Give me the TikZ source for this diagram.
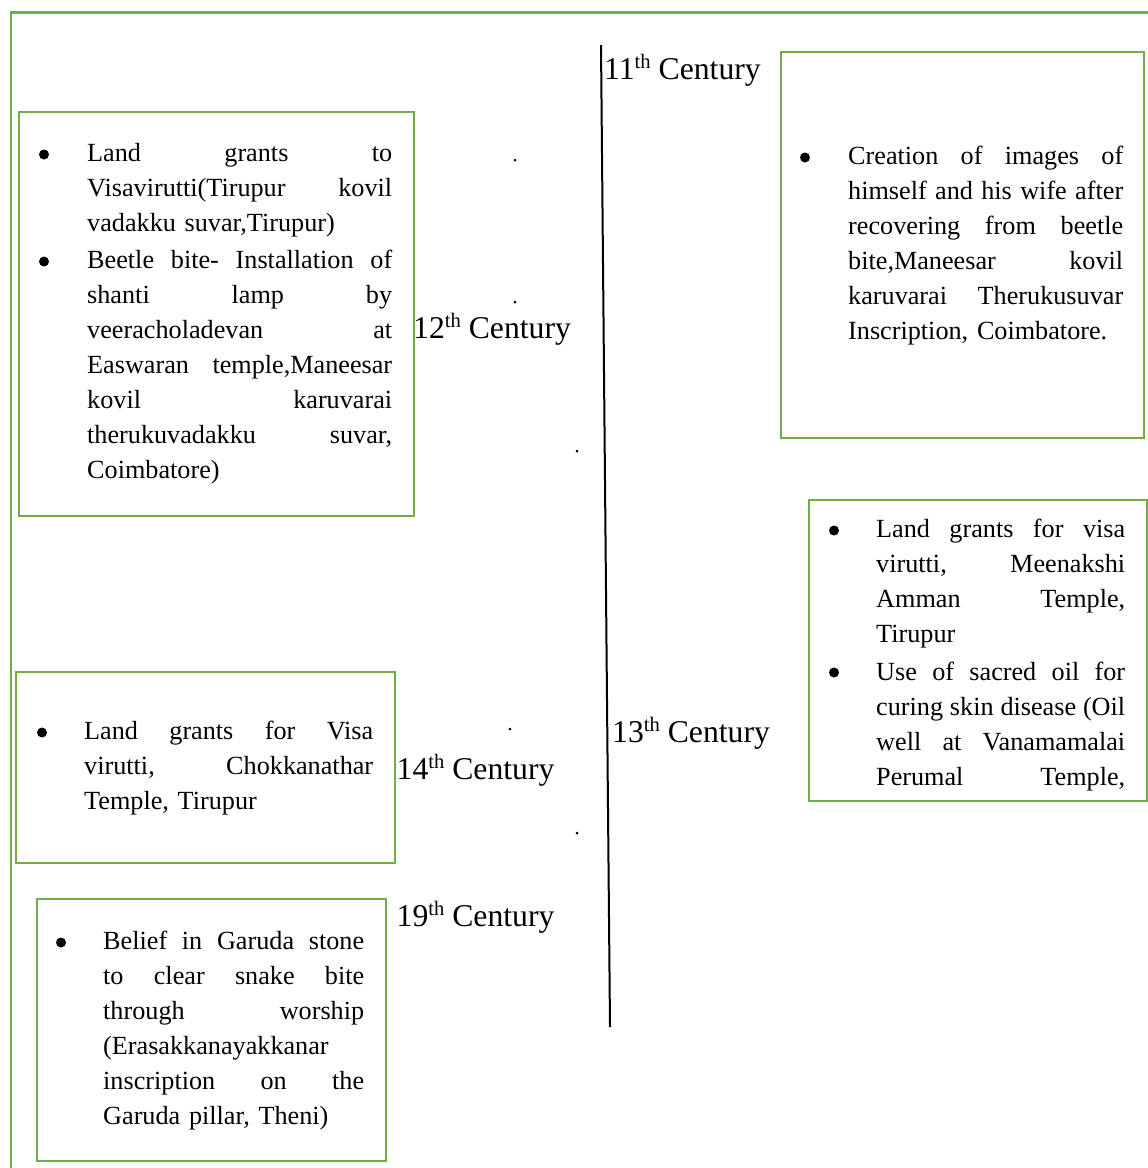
\documentclass[tikz,border=0pt]{standalone}
\usepackage{fontspec}
\setmainfont{Liberation Serif}
\definecolor{boxgreen}{HTML}{70AD47}
\frenchspacing
\newcommand\bodyfont{\fontsize{26.2}{35}\selectfont}
\newcommand\centfont{\fontsize{31.7}{38}\selectfont}
\newcommand\myline[1]{\hbox to\hsize{\vrule height 25pt depth 10pt width 0pt #1}}
\newcommand\cent[1]{#1\raisebox{0.34em}{\fontsize{20.6}{21}\selectfont th} Century}
\tikzset{
  greenbox/.style={draw=boxgreen, line width=2.5pt, anchor=north west, inner sep=0pt},
  txt/.style={anchor=north west, inner sep=0pt, font=\bodyfont},
  centlabel/.style={anchor=base west, inner sep=0pt, font=\centfont},
  bul/.style={circle, fill=black, inner sep=0pt, minimum size=10pt},
  smalldot/.style={circle, fill=black, inner sep=0pt, minimum size=3pt},
  frame/.style={draw=boxgreen, line width=2.4pt},
  timeline/.style={draw=black, line width=2pt}
}
\begin{document}
\begin{tikzpicture}[x=1pt,y=-1pt]
\useasboundingbox (0,0) rectangle (1148,1168);
% outer frame (only top and left visible)
\draw[frame] (1150,12.5) -- (11,12.5) -- (11,1170);
% timeline
\coordinate (ttop) at (601,45);
\coordinate (tbot) at (610,1027);
\draw[timeline] (ttop) -- (tbot);
% boxes
\node[greenbox, minimum width=395pt, minimum height=404pt] (b1) at (17.5,110.5) {};
\node[greenbox, minimum width=363pt, minimum height=386pt] (b2) at (779.5,50.5) {};
\node[greenbox, minimum width=338pt, minimum height=301pt] (b3) at (807.5,498.5) {};
\node[greenbox, minimum width=379pt, minimum height=191pt] (b4) at (14.5,670.5) {};
\node[greenbox, minimum width=349pt, minimum height=262pt] (b5) at (35.5,897.5) {};
% box 1 (12th century)
\node[txt, text width=305pt] (t1) at (87,136.5) {%
\myline{Land\hfill grants\hfill to}
\myline{Visavirutti(Tirupur\hfill kovil}
\myline{vadakku suvar,Tirupur)\hfill}
\vskip 2pt
\myline{Beetle\hfill bite-\hfill Installation\hfill of}
\myline{shanti\hfill lamp\hfill by}
\myline{veeracholadevan\hfill at}
\myline{Easwaran\hfill temple,Maneesar}
\myline{kovil\hfill karuvarai}
\myline{therukuvadakku\hfill suvar,}
\myline{Coimbatore)\hfill}};
\node[bul] (p1a) at (44,154.5) {};
\node[bul] (p1b) at (44,261.5) {};
% box 2 (11th century)
\node[txt, text width=275pt] (t2) at (848,139.5) {%
\myline{Creation\hfill of\hfill images\hfill of}
\myline{himself\hfill and\hfill his\hfill wife\hfill after}
\myline{recovering\hfill from\hfill beetle}
\myline{bite,Maneesar\hfill kovil}
\myline{karuvarai\hfill Therukusuvar}
\myline{Inscription, Coimbatore.\hfill}};
\node[bul] (p2a) at (805,157.5) {};
% box 3 (13th century)
\node[txt, text width=249pt] (t3) at (876,512.5) {%
\myline{Land\hfill grants\hfill for\hfill visa}
\myline{virutti,\hfill Meenakshi}
\myline{Amman\hfill Temple,}
\myline{Tirupur\hfill}
\vskip 3pt
\myline{Use\hfill of\hfill sacred\hfill oil\hfill for}
\myline{curing\hfill skin\hfill disease\hfill (Oil}
\myline{well\hfill at\hfill Vanamamalai}
\myline{Perumal\hfill Temple,}};
\node[bul] (p3a) at (834,530.5) {};
\node[bul] (p3b) at (834,672.5) {};
% box 4 (14th century)
\node[txt, text width=289pt] (t4) at (84,714.5) {%
\myline{Land\hfill grants\hfill for\hfill Visa}
\myline{virutti,\hfill Chokkanathar}
\myline{Temple, Tirupur\hfill}};
\node[bul] (p4a) at (42,732.5) {};
% box 5 (19th century)
\node[txt, text width=261pt] (t5) at (103,924.5) {%
\myline{Belief\hfill in\hfill Garuda\hfill stone}
\myline{to\hfill clear\hfill snake\hfill bite}
\myline{through\hfill worship}
\myline{(Erasakkanayakkanar\hfill}
\myline{inscription\hfill on\hfill the}
\myline{Garuda pillar, Theni)\hfill}};
\node[bul] (p5a) at (61,942.5) {};
% century labels
\node[centlabel] (c11) at (604,79) {\cent{11}};
\node[centlabel] (c12) at (413,338) {\cent{12}};
\node[centlabel] (c13) at (612,742) {\cent{13}};
\node[centlabel] (c14) at (396.5,779) {\cent{14}};
\node[centlabel] (c19) at (396.5,926) {\cent{19}};
% stray dots
\node[smalldot] (d1) at (515,160) {};
\node[smalldot] (d2) at (515,302) {};
\node[smalldot] (d3) at (577,451) {};
\node[smalldot] (d4) at (510,729) {};
\node[smalldot] (d5) at (577,833) {};
\end{tikzpicture}
\end{document}
